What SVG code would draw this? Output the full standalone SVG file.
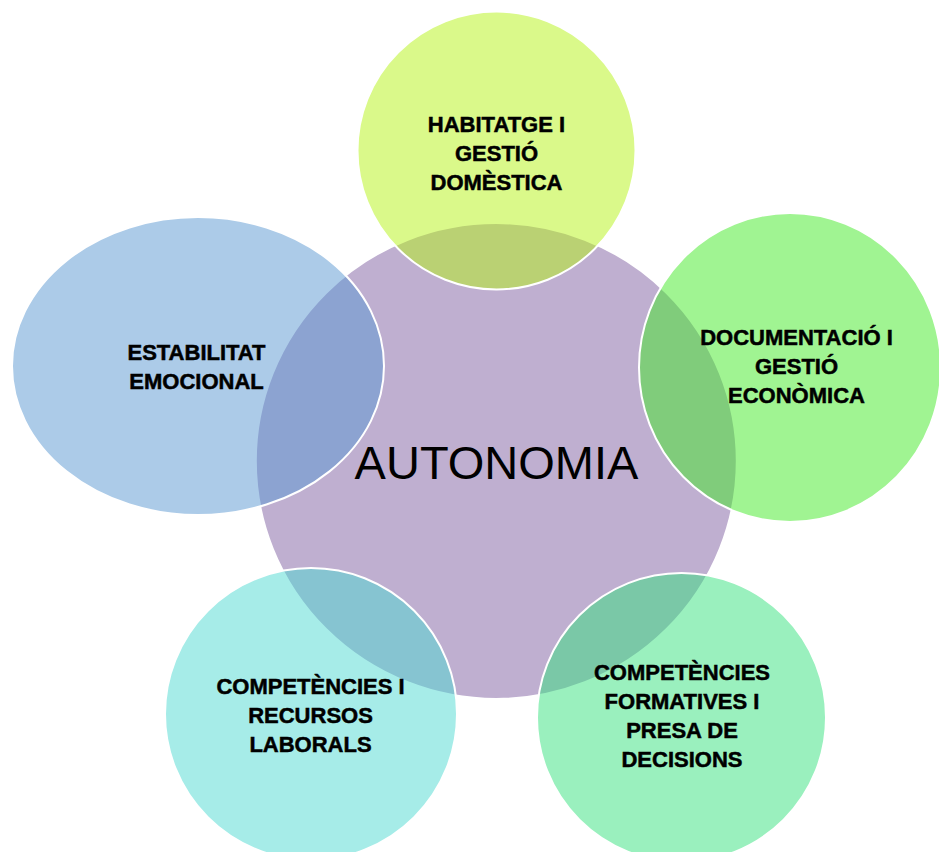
<svg xmlns="http://www.w3.org/2000/svg" width="939" height="852" viewBox="0 0 939 852">
<style>
.shape{stroke:#ffffff;stroke-width:2}
.lbl{font-family:"Liberation Sans",Arial,sans-serif;font-weight:bold;font-size:22px;fill:#000000;stroke:#000000;stroke-width:0.5;text-anchor:middle}
.main{font-family:"Liberation Sans",Arial,sans-serif;font-size:47px;fill:#000000;text-anchor:middle}
</style>
<rect width="939" height="852" fill="#ffffff"/>
<g id="autonomia">
<ellipse class="shape" cx="496.3" cy="461" rx="240.5" ry="238" fill="#BFAFD0"/>
</g>
<g id="habitatge">
<circle class="shape" cx="496.5" cy="150.5" r="139" fill="#B5F315" fill-opacity="0.5"/>
<text class="lbl"><tspan x="496.5" y="132">HABITATGE I</tspan><tspan x="496.5" y="161">GESTIÓ</tspan><tspan x="496.5" y="190">DOMÈSTICA</tspan></text>
</g>
<g id="documentacio">
<ellipse class="shape" cx="790" cy="367.5" rx="151" ry="154.5" fill="#41E925" fill-opacity="0.5"/>
<text class="lbl"><tspan x="796.5" y="345">DOCUMENTACIÓ I</tspan><tspan x="796.5" y="374">GESTIÓ</tspan><tspan x="796.5" y="403">ECONÒMICA</tspan></text>
</g>
<g id="formatives">
<circle class="shape" cx="681.5" cy="717.5" r="144.5" fill="#35E17D" fill-opacity="0.5"/>
<text class="lbl"><tspan x="682" y="680">COMPETÈNCIES</tspan><tspan x="682" y="709">FORMATIVES I</tspan><tspan x="682" y="738">PRESA DE</tspan><tspan x="682" y="767">DECISIONS</tspan></text>
</g>
<g id="laborals">
<circle class="shape" cx="311" cy="714" r="146" fill="#4DD9D1" fill-opacity="0.5"/>
<text class="lbl"><tspan x="310.5" y="694">COMPETÈNCIES I</tspan><tspan x="310.5" y="723">RECURSOS</tspan><tspan x="310.5" y="752">LABORALS</tspan></text>
</g>
<g id="estabilitat">
<ellipse class="shape" cx="198" cy="366" rx="186" ry="149" fill="#5997D1" fill-opacity="0.5"/>
<text class="lbl"><tspan x="196.5" y="360">ESTABILITAT</tspan><tspan x="196.5" y="389">EMOCIONAL</tspan></text>
</g>
<g id="center-label">
<text class="main" x="496.5" y="479">AUTONOMIA</text>
</g>
<g id="connectors"></g>
</svg>
